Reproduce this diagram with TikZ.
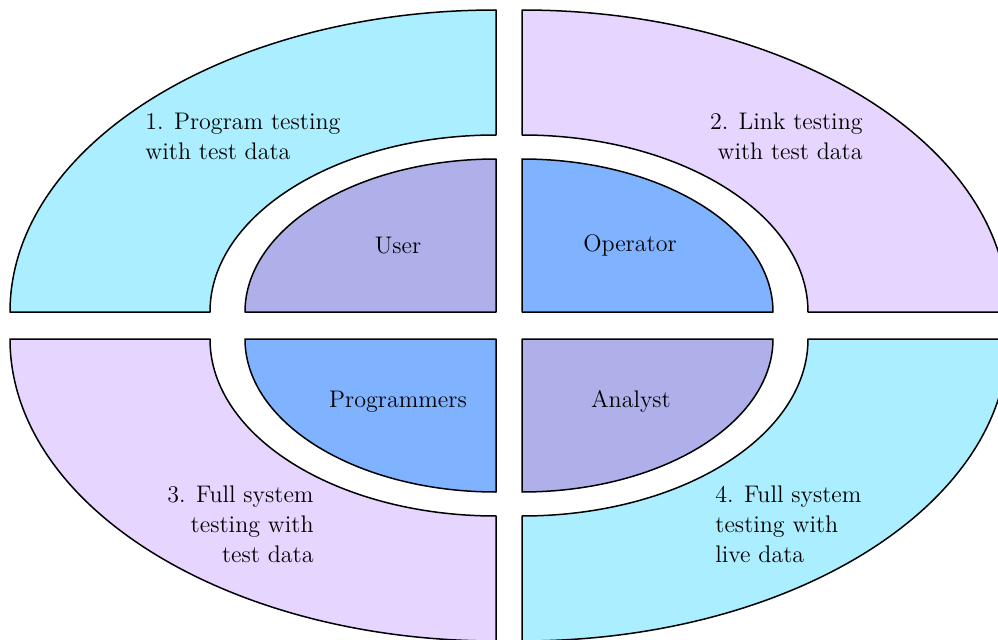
\documentclass[tikz,border=0pt]{standalone}
\usepackage{tikz}

% 1 unit = 0.5pt; radii are given through \pxl so arcs use the same unit
\newcommand{\pxl}[1]{#1*0.5pt}

\definecolor{ringcyan}{HTML}{AAEEFF}
\definecolor{ringlilac}{HTML}{E5D5FF}
\definecolor{coreslate}{HTML}{AFAFE9}
\definecolor{coreblue}{HTML}{80B3FF}

\tikzset{
  piece/.style={draw=black, line width=0.75pt, line join=round},
  label/.style={inner sep=0pt, font=\fontsize{12}{15}\selectfont},
}

\begin{document}
\begin{tikzpicture}[x=0.5pt, y=0.5pt]
  \useasboundingbox (0,0) rectangle (998,639);
  \clip (0,0) rectangle (998,639);

  % ---- outer ring: four quarter bands ----
  % top left
  \draw[piece, fill=ringcyan] (496,327) ++(-486,0)
    arc[start angle=180, end angle=90, x radius=\pxl{486}, y radius=\pxl{302}]
    -- ++(0,-125)
    arc[start angle=90, end angle=180, x radius=\pxl{286}, y radius=\pxl{177}]
    -- cycle;
  % top right
  \draw[piece, fill=ringlilac] (522,327) ++(0,302)
    arc[start angle=90, end angle=0, x radius=\pxl{486}, y radius=\pxl{302}]
    -- ++(-200,0)
    arc[start angle=0, end angle=90, x radius=\pxl{286}, y radius=\pxl{177}]
    -- cycle;
  % bottom left
  \draw[piece, fill=ringlilac] (496,300) ++(-486,0)
    arc[start angle=180, end angle=270, x radius=\pxl{486}, y radius=\pxl{302}]
    -- ++(0,125)
    arc[start angle=270, end angle=180, x radius=\pxl{286}, y radius=\pxl{177}]
    -- cycle;
  % bottom right
  \draw[piece, fill=ringcyan] (522,300) ++(0,-302)
    arc[start angle=270, end angle=360, x radius=\pxl{486}, y radius=\pxl{302}]
    -- ++(-200,0)
    arc[start angle=0, end angle=-90, x radius=\pxl{286}, y radius=\pxl{177}]
    -- cycle;

  % ---- inner core: four quarter ellipses ----
  \draw[piece, fill=coreslate] (496,327) -- ++(-251,0)
    arc[start angle=180, end angle=90, x radius=\pxl{251}, y radius=\pxl{153}] -- cycle;
  \draw[piece, fill=coreblue] (522,327) -- ++(251,0)
    arc[start angle=0, end angle=90, x radius=\pxl{251}, y radius=\pxl{153}] -- cycle;
  \draw[piece, fill=coreblue] (496,300) -- ++(-251,0)
    arc[start angle=180, end angle=270, x radius=\pxl{251}, y radius=\pxl{153}] -- cycle;
  \draw[piece, fill=coreslate] (522,300) -- ++(251,0)
    arc[start angle=0, end angle=-90, x radius=\pxl{251}, y radius=\pxl{153}] -- cycle;

  % ---- labels (base anchor sits on the last line) ----
  \node[label, anchor=base west, align=left]  (stage1) at (145,480) {1. Program testing\\with test data};
  \node[label, anchor=base east, align=right] (stage2) at (863,480) {2. Link testing\\with test data};
  \node[label, anchor=base east, align=right] (stage3) at (314,77) {3. Full system\\testing with\\test data};
  \node[label, anchor=base west, align=left]  (stage4) at (715,77) {4. Full system\\testing with\\live data};

  \node[label, anchor=base] (user)  at (398,386) {User};
  \node[label, anchor=base] (oper)  at (630,387) {Operator};
  \node[label, anchor=base] (progs) at (398,232) {Programmers};
  \node[label, anchor=base] (anal)  at (631,232) {Analyst};
\end{tikzpicture}
\end{document}
